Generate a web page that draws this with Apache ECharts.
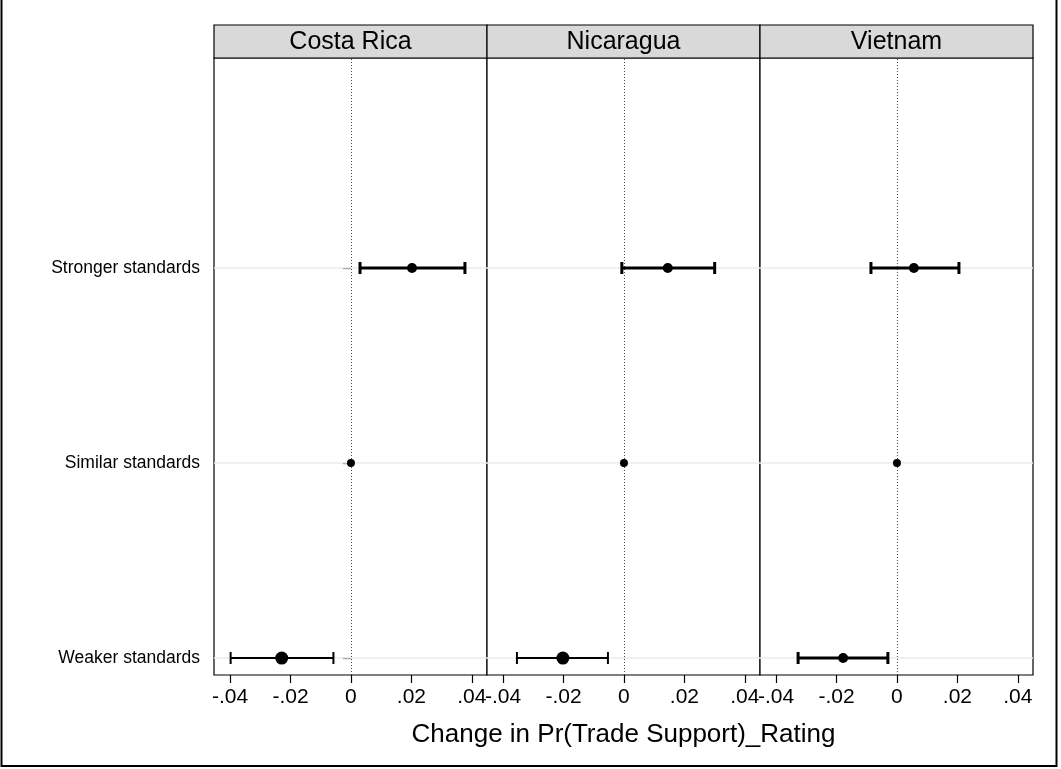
<!DOCTYPE html>
<html>
<head>
<meta charset="utf-8">
<script src="https://cdn.jsdelivr.net/npm/echarts@6/dist/echarts.min.js"></script>
<style>
  html, body { margin: 0; padding: 0; background: #fff; }
  #chart { width: 1061px; height: 769px; }
</style>
</head>
<body>
<div id="chart"></div>
<script>
'use strict';

// panels and rows
const panels = ['Costa Rica', 'Nicaragua', 'Vietnam'];
const rowLabels = ['Weaker standards', 'Similar standards', 'Stronger standards'];
const rowPos = [1, 2, 3];
const xTicks = [-0.04, -0.02, 0, 0.02, 0.04];

// point estimates per panel (weaker, similar, stronger)
const estimates = [
  [-0.0229, 0, 0.0202],
  [-0.0202, 0, 0.0145],
  [-0.0178, 0, 0.0056]
];
// confidence bounds per panel (weaker, stronger); similar is the base level
const lowerCI = [
  [-0.0398, -0.0354, -0.0327],
  [0.0030, -0.0007, -0.0086]
];
const upperCI = [
  [-0.0058, -0.0053, -0.0030],
  [0.0377, 0.0300, 0.0205]
];
// marker sizes and bar widths as drawn (weaker, similar, stronger)
const markerSize = [
  [13, 8, 10],
  [13, 8, 10],
  [10, 8, 10]
];
const barWidth = [
  [2, 0, 3],
  [2, 0, 3],
  [3, 0, 3]
];

const fontName = '"Liberation Sans", Arial, Helvetica, sans-serif';
const panelLeft = 214;
const panelWidth = 273;
const plotTop = 58;
const plotHeight = 617;
const headerHeight = 33;

function fmtTick(v) {
  if (Math.abs(v) < 1e-9) return '0';
  const s = Math.abs(v).toFixed(2).replace(/^0/, '');
  return (v < 0 ? '-' : '') + s;
}

const grids = [];
const xAxes = [];
const yAxes = [];
const series = [];
const graphics = [];

panels.forEach((name, i) => {
  grids.push({
    left: panelLeft + panelWidth * i,
    top: plotTop,
    width: panelWidth,
    height: plotHeight,
    show: true,
    borderColor: '#000',
    borderWidth: 1.2,
    backgroundColor: '#fff'
  });
  xAxes.push({
    gridIndex: i,
    type: 'value',
    min: -0.0453,
    max: 0.0450,
    axisLine: { show: false },
    axisTick: {
      show: true,
      length: 8,
      customValues: xTicks,
      lineStyle: { color: '#000', width: 1.2 }
    },
    axisLabel: {
      customValues: xTicks,
      formatter: fmtTick,
      fontSize: 21,
      color: '#000',
      fontFamily: fontName,
      margin: 12
    },
    splitLine: { show: false },
    name: i === 1 ? 'Change in Pr(Trade Support)_Rating' : '',
    nameLocation: 'middle',
    nameGap: 47,
    nameTextStyle: { fontSize: 26, color: '#000', fontFamily: fontName }
  });
  yAxes.push({
    gridIndex: i,
    type: 'value',
    min: 0.913,
    max: 4.077,
    axisLine: { show: false },
    axisTick: {
      show: i === 0,
      length: 8,
      customValues: rowPos,
      lineStyle: { color: '#000', width: 1.2 }
    },
    axisLabel: {
      show: i === 0,
      customValues: rowPos,
      formatter: v => rowLabels[Math.round(v) - 1],
      fontSize: 17.5,
      color: '#000',
      fontFamily: fontName,
      margin: 14
    },
    splitLine: { show: false }
  });

  // light row gridlines and dotted zero line, kept under the marks
  series.push({
    type: 'scatter',
    xAxisIndex: i,
    yAxisIndex: i,
    data: [],
    z: 1,
    silent: true,
    markLine: {
      z: 1,
      symbol: 'none',
      silent: true,
      animation: false,
      label: { show: false },
      lineStyle: { color: '#e6eef0', width: 1.5, type: 'solid' },
      data: rowPos.map(r => ({ yAxis: r }))
    }
  });
  series.push({
    type: 'scatter',
    xAxisIndex: i,
    yAxisIndex: i,
    data: [],
    z: 2,
    silent: true,
    markLine: {
      z: 2,
      symbol: 'none',
      silent: true,
      animation: false,
      label: { show: false },
      lineStyle: { color: '#444', width: 1, type: [1, 2] },
      data: [{ xAxis: 0 }]
    }
  });

  // error bars for weaker and stronger rows
  const ciData = [
    [rowPos[0], lowerCI[0][i], upperCI[0][i], barWidth[i][0]],
    [rowPos[2], lowerCI[1][i], upperCI[1][i], barWidth[i][2]]
  ];
  series.push({
    type: 'custom',
    xAxisIndex: i,
    yAxisIndex: i,
    z: 10,
    animation: false,
    silent: true,
    encode: { x: [1, 2], y: 0 },
    data: ciData,
    renderItem: function (params, api) {
      const y = api.value(0);
      const p1 = api.coord([api.value(1), y]);
      const p2 = api.coord([api.value(2), y]);
      const w = api.value(3);
      const cap = 6;
      return {
        type: 'group',
        children: [
          { type: 'line', shape: { x1: p1[0], y1: p1[1], x2: p2[0], y2: p2[1] }, style: { stroke: '#000', lineWidth: w } },
          { type: 'line', shape: { x1: p1[0], y1: p1[1] - cap, x2: p1[0], y2: p1[1] + cap }, style: { stroke: '#000', lineWidth: w } },
          { type: 'line', shape: { x1: p2[0], y1: p2[1] - cap, x2: p2[0], y2: p2[1] + cap }, style: { stroke: '#000', lineWidth: w } }
        ]
      };
    }
  });

  // point estimates
  series.push({
    type: 'scatter',
    xAxisIndex: i,
    yAxisIndex: i,
    z: 11,
    animation: false,
    silent: true,
    itemStyle: { color: '#000', opacity: 1 },
    data: estimates[i].map((v, k) => ({
      value: [v, rowPos[k]],
      symbolSize: markerSize[i][k]
    }))
  });

  // panel header strip
  graphics.push({
    type: 'rect',
    shape: { x: panelLeft + panelWidth * i, y: plotTop - headerHeight, width: panelWidth, height: headerHeight },
    style: { fill: '#d9d9d9', stroke: '#000', lineWidth: 1.2 },
    z: 10
  });
  graphics.push({
    type: 'text',
    x: panelLeft + panelWidth * i + panelWidth / 2,
    y: plotTop - headerHeight / 2 + 1,
    style: {
      text: name,
      fontSize: 25,
      fontFamily: fontName,
      fill: '#000',
      align: 'center',
      verticalAlign: 'middle'
    },
    z: 11
  });
});

// outer frame
graphics.push({
  type: 'rect',
  shape: { x: 1.5, y: -5, width: 1055, height: 771 },
  style: { fill: 'none', stroke: '#000', lineWidth: 2 },
  z: 12
});

const chart = echarts.init(document.getElementById('chart'));
chart.setOption({
  backgroundColor: '#fff',
  animation: false,
  grid: grids,
  xAxis: xAxes,
  yAxis: yAxes,
  series: series,
  graphic: graphics
});
</script>
</body>
</html>
